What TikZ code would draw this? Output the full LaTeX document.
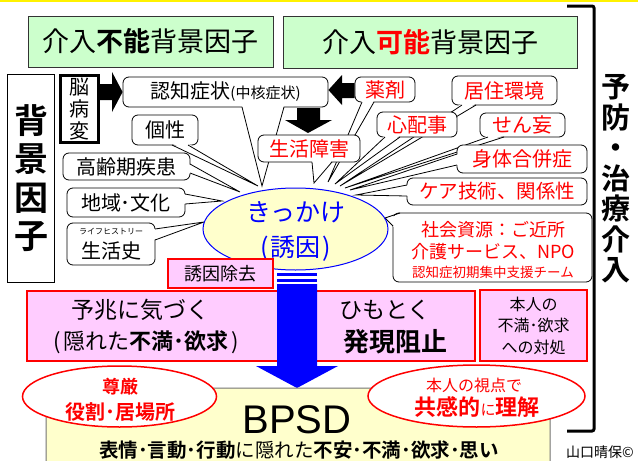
\documentclass[tikz,border=0pt]{standalone}
\usepackage{fontspec}
\setmainfont{Noto Sans CJK JP}[BoldFont={Noto Sans CJK JP Bold}]
\newfontfamily\latfont{Liberation Sans}
\usetikzlibrary{calc,shapes.geometric}
\definecolor{lgreen}{HTML}{CCFFCC}
\definecolor{lpink}{HTML}{FFCCFF}
\definecolor{lyellow}{HTML}{FFFFCC}
\definecolor{pred}{HTML}{FF0000}
\definecolor{pblue}{HTML}{0000FF}
\newcommand\fzs[2]{\fontsize{#1}{#2}\selectfont}
\newcommand\ctail[4]{%
  \fill[white] ($(#1)+(#4)$) -- (#3) -- ($(#2)+(#4)$) -- cycle;
  \draw[tline] (#1) -- (#3) -- (#2);}
\begin{document}
\begin{tikzpicture}[x=1pt,y=-1pt,
  cbox/.style={draw=black, line width=0.8pt, fill=white, rounded corners=6pt, inner sep=0pt},
  tline/.style={draw=black, line width=0.8pt, line join=miter},
  gbox/.style={draw=black!80, line width=0.8pt, fill=lgreen, inner sep=0pt},
  pbox/.style={draw=pred, line width=1.6pt, fill=lpink, inner sep=0pt},
  rbox/.style={cbox, text=pred},
  plain/.style={inner sep=0pt},
]
\useasboundingbox (0,0) rectangle (638,461);
\clip (0,0) rectangle (638,461);
\fill[white] (0,0) rectangle (638,461);
\fill[yellow] (0,0) rectangle (638,2);

% top green boxes
\node[gbox, minimum width=245pt, minimum height=51pt, font=\fzs{27}{30}] (fuka) at (150.5,41.5) {介入\textbf{不能}背景因子};
\node[gbox, minimum width=294pt, minimum height=52pt, font=\fzs{27}{30}] (kano) at (430,42) {介入\textcolor{pred}{\textbf{可能}}背景因子};

% bracket and right label
\coordinate (brT) at (567,6);
\coordinate (brB) at (567,431);
\draw[line width=3pt, rounded corners=2pt] (brT) -- (594,6) -- (594,431) -- (brB);
\node[plain, align=center, font=\bfseries\fzs{29}{30.5}] (yobo) at (616,179) {予\\防\\・\\治\\療\\介\\入};

% left label box
\node[draw=black, line width=0.8pt, fill=white, minimum width=47pt, minimum height=208pt, inner sep=0pt, align=center, font=\bfseries\fzs{34}{38.5}] (haikei) at (31,178) {背\\景\\因\\子};

% brain lesion box
\node[draw=black, line width=2.4pt, fill=white, minimum width=38pt, minimum height=67pt, inner sep=0pt, align=center, font=\fzs{20}{22}] (nou) at (79.5,109) {脳\\病\\変};

% callouts, left side
\node[cbox, minimum width=205pt, minimum height=30pt, font=\fzs{20}{22}] (ninchi) at (225.5,92) {認知症状{\fzs{15}{16}(中核症状)}};
\ctail{242,107}{284,107}{262,186}{0,-1.5}
\node[cbox, minimum width=66pt, minimum height=30pt, font=\fzs{20}{22}] (kosei) at (165,130) {個性};
\ctail{172,145}{188,145}{258,186}{0,-1.5}
\node[cbox, minimum width=127pt, minimum height=27pt, font=\fzs{20}{22}] (koreiki) at (126.5,166.5) {高齢期疾患};
\ctail{190,164}{190,173}{240,192}{-1.5,0}
\node[cbox, minimum width=118pt, minimum height=29pt, font=\fzs{20}{22}] (chiiki) at (126,202.5) {地域･文化};
\ctail{185,194}{185,204}{222,201}{-1.5,0}
\node[cbox, minimum width=88pt, minimum height=42pt, align=center, font=\fzs{20}{24}] (seikatsushi) at (111,244) {{\fzs{8}{10}ライフヒストリー}\\生活史};
\ctail{155,229}{155,240}{204,222}{-1.5,0}

% callouts, right side
\node[rbox, minimum width=60pt, minimum height=25pt, font=\fzs{20}{22}] (yakuzai) at (385,89.5) {薬剤};
\ctail{362,102}{374,102}{328,182}{0,-1.5}
\node[rbox, minimum width=102pt, minimum height=27pt, font=\fzs{20}{22}] (shogai) at (309,148.5) {生活障害};
\ctail{312,162}{332,162}{314,183}{0,-1.5}
\node[rbox, minimum width=105pt, minimum height=29pt, font=\fzs{20}{22}] (kyoju) at (504.5,90.5) {居住環境};
\ctail{462,105}{476,105}{340,186}{0,-1.5}
\node[rbox, minimum width=80pt, minimum height=25pt, font=\fzs{20}{22}] (shinpai) at (417,124.5) {心配事};
\ctail{385,137}{400,137}{335,184}{0,-1.5}
\node[rbox, minimum width=85pt, minimum height=24pt, font=\fzs{20}{22}] (senmo) at (522.5,125) {せん妄};
\ctail{488,137}{504,137}{345,188}{0,-1.5}
\node[rbox, minimum width=130pt, minimum height=28pt, font=\fzs{20}{22}] (shintai) at (522,159) {身体合併症};
\ctail{457,154}{457,165}{350,190}{1.5,0}
\node[rbox, minimum width=180pt, minimum height=27pt, font=\fzs{19.5}{22}] (care) at (497,191.5) {ケア技術、関係性};
\ctail{407,185}{407,196}{356,195}{1.5,0}
\node[cbox, minimum width=199pt, minimum height=69pt] (shakai) at (492.5,247.5) {};
\ctail{393,226}{400,213}{385,218}{1.5,1.5}
\node[plain, text=pred, font=\fzs{18}{20}] (sh1) at (493,230) {社会資源：ご近所};
\node[plain, text=pred, font=\fzs{18}{20}] (sh2) at (493,252) {介護サービス、NPO};
\node[plain, text=pred, font=\fzs{13.5}{15}] (sh3) at (493,272) {認知症初期集中支援チーム};

% black block arrows
\fill[black] (nou.east |- 0,84) -- (112,84) -- (112,72) -- (ninchi.west |- 0,92) -- (112,112) -- (112,100) -- (nou.east |- 0,100) -- cycle;
\fill[black] (ninchi.east |- 0,90) -- (342,75) -- (342,83) -- (yakuzai.west |- 0,83) -- (yakuzai.west |- 0,98) -- (342,98) -- (342,105) -- cycle;
\fill[black] (297,108) -- (320,108) -- (320,120) -- (332,120) -- (308,133) -- (285,120) -- (297,120) -- cycle;

% trigger ellipse
\node[ellipse, draw=pblue, line width=1pt, fill=lyellow, minimum width=185pt, minimum height=82pt, inner sep=0pt] (kikkake) at (295.5,229) {};
\node[plain, align=center, text=pblue, font=\fzs{25}{35}] (kikkaket) at (296,231) {きっかけ\\(\kern2pt誘因\kern2pt)};

% removal box
\node[pbox, minimum width=105pt, minimum height=29pt, font=\fzs{18}{20}] (jokyo) at (220.5,273.5) {誘因除去};

% pink boxes
\node[pbox, minimum width=448pt, minimum height=70pt] (yocho) at (251,326) {};
\node[plain, font=\fzs{23}{25}] (yt1) at (140,310) {予兆に気づく};
\node[plain, font=\fzs{22}{24}] (yt2) at (146,342) {(\kern3pt隠れた\textbf{不満･欲求}\kern3pt)};
\node[plain, font=\fzs{23}{25}] (yt3) at (385,310) {ひもとく};
\node[plain, font=\bfseries\fzs{26}{28}] (yt4) at (395,342) {発現阻止};
\node[pbox, minimum width=107pt, minimum height=71pt, align=center, font=\fzs{16}{21.5}] (taisho) at (533.5,325.5) {本人の\\不満･欲求\\への対処};

% blue arrow
\fill[pblue] (277,273) rectangle (317,276);
\fill[pblue] (277,278.5) rectangle (317,281.5);
\fill[pblue] (277,284) -- (317,284) -- (317,366) -- (338,366) -- (297,388) -- (256,366) -- (277,366) -- cycle;

% BPSD box
\node[draw=black!55, line width=1pt, fill=lyellow, rounded corners=12pt, minimum width=504pt, minimum height=92pt, inner sep=0pt] (bpsd) at (298,434) {};
\node[plain, font=\latfont\fzs{40}{44}] (bpsdt) at (297,420) {BPSD};
\node[plain, font=\fzs{19.5}{21}] (hyojo) at (299,450) {\textbf{表情･言動･行動}に隠れた\textbf{不安･不満･欲求･思い}};

% red ellipses
\node[ellipse, draw=pred, line width=1.5pt, fill=white, minimum width=194pt, minimum height=61pt, inner sep=0pt] (songen) at (119.5,396.5) {};
\node[plain, text=pred, font=\bfseries\fzs{18}{20}] (songen1) at (120,387) {尊厳};
\node[plain, text=pred, font=\bfseries\fzs{20}{22}] (songen2) at (120,412) {役割･居場所};
\node[ellipse, draw=pred, line width=1.5pt, fill=white, minimum width=217pt, minimum height=62pt, inner sep=0pt] (kyokan) at (476.5,396) {};
\node[plain, text=pred, font=\fzs{16}{18}] (kyokan1) at (474,385) {本人の視点で};
\node[plain, text=pred, font=\bfseries\fzs{22}{24}] (kyokan2) at (477,407) {共感的{\mdseries\fzs{15}{16}に}理解};

% copyright
\node[plain, font=\fzs{14}{16}] (copy) at (600,452) {山口晴保©};
\end{tikzpicture}
\end{document}
